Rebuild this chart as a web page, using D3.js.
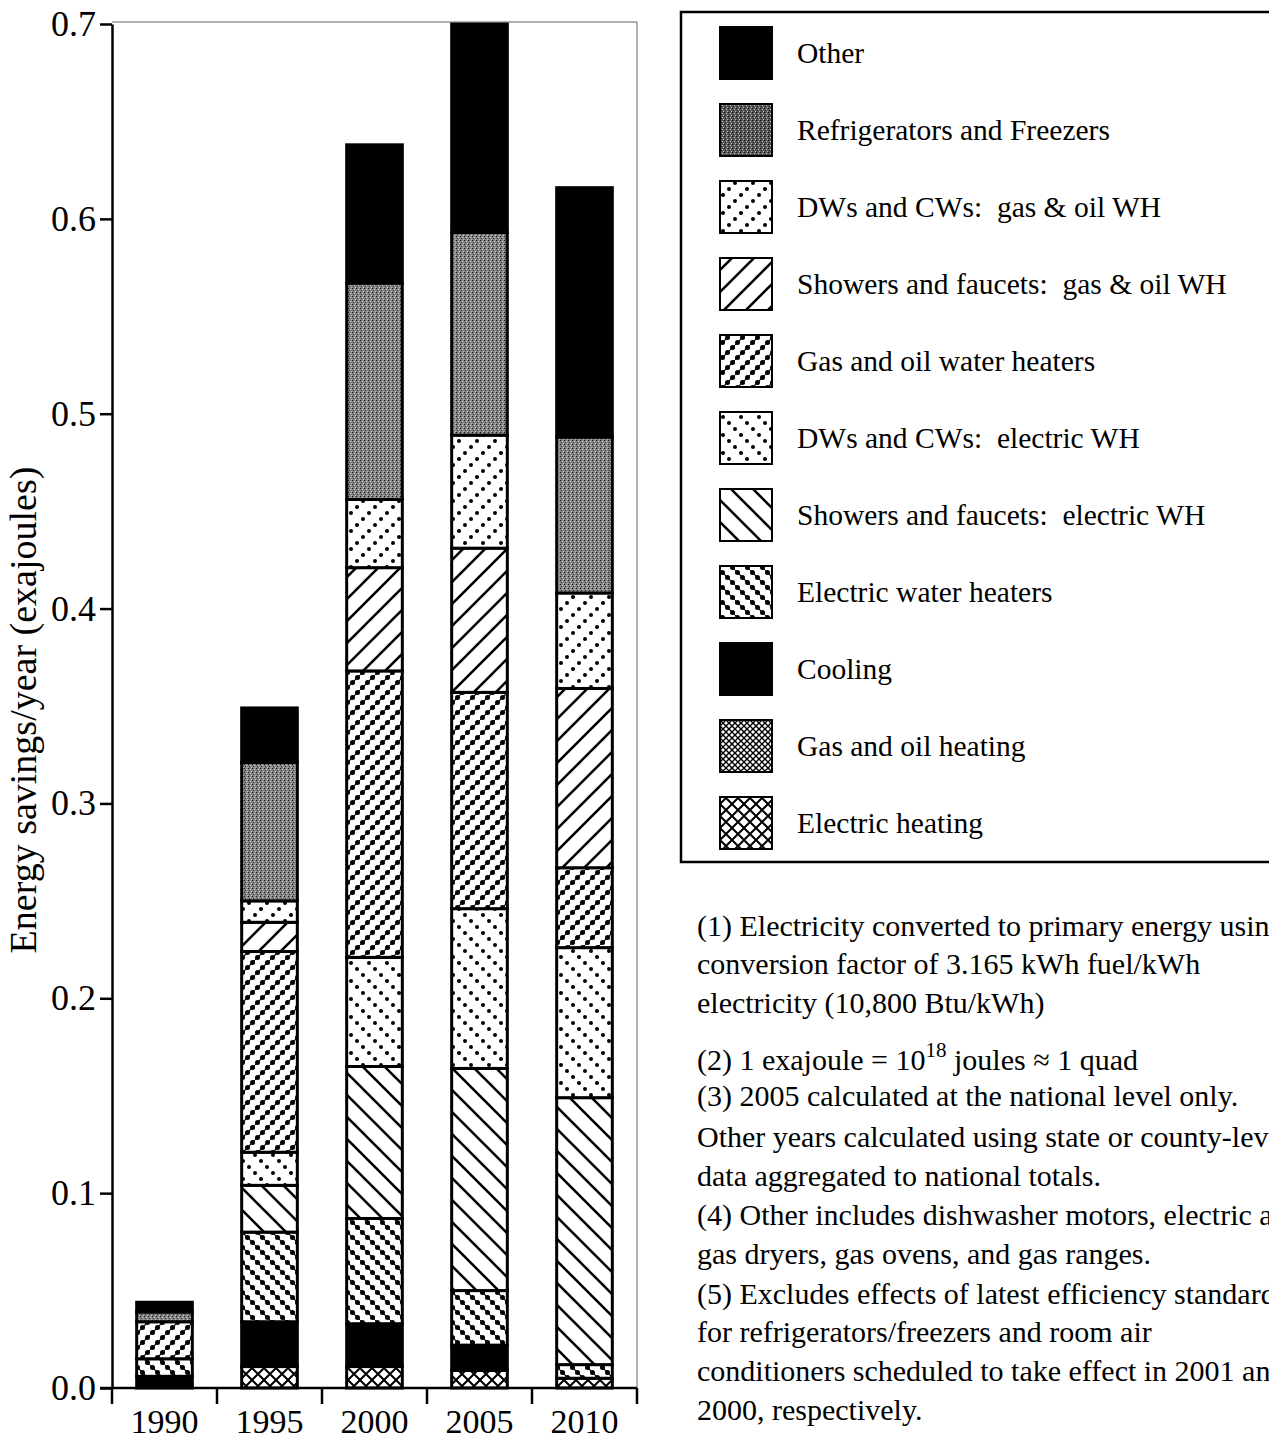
<!DOCTYPE html>
<html>
<head>
<meta charset="utf-8">
<script src="https://cdn.jsdelivr.net/npm/d3@7"></script>
<style>
  body { margin: 0; background: #fff; }
  text { font-family: "Liberation Serif", "Times New Roman", serif; fill: #000; white-space: pre; }
</style>
</head>
<body>
<div id="chart"></div>
<script>
// values (exajoules), bottom of stack first
var years = ["1990", "1995", "2000", "2005", "2010"];
var electricHeating = [0, 0.011, 0.011, 0.009, 0.005];
var gasOilHeating = [0, 0, 0, 0, 0];
var cooling = [0.006, 0.023, 0.022, 0.013, 0];
var electricWH = [0.009, 0.046, 0.054, 0.028, 0.007];
var showersElectric = [0, 0.024, 0.078, 0.114, 0.137];
var dwElectric = [0, 0.017, 0.056, 0.082, 0.077];
var gasOilWH = [0.019, 0.103, 0.147, 0.111, 0.041];
var showersGas = [0, 0.015, 0.053, 0.074, 0.092];
var dwGas = [0, 0.011, 0.035, 0.058, 0.049];
var refrigerators = [0.005, 0.071, 0.111, 0.104, 0.080];
var other = [0.005, 0.028, 0.071, 0.107, 0.128];

var yTicks = [0, 0.1, 0.2, 0.3, 0.4, 0.5, 0.6, 0.7];

var seriesNames = ["Electric heating", "Gas and oil heating", "Cooling", "Electric water heaters",
  "Showers and faucets:  electric WH", "DWs and CWs:  electric WH", "Gas and oil water heaters",
  "Showers and faucets:  gas & oil WH", "DWs and CWs:  gas & oil WH", "Refrigerators and Freezers", "Other"];
var seriesValues = [electricHeating, gasOilHeating, cooling, electricWH, showersElectric, dwElectric,
  gasOilWH, showersGas, dwGas, refrigerators, other];
var seriesFill = ["url(#p-elheat)", "url(#p-gasheat)", "#000", "url(#p-elwh)", "url(#p-showel)",
  "url(#p-dwel)", "url(#p-gaswh)", "url(#p-showgas)", "url(#p-dwgas)", "url(#p-refrig)", "#000"];

var notes = [
  {y: 936, t: "(1) Electricity converted to primary energy using"},
  {y: 974, t: "conversion factor of 3.165 kWh fuel/kWh"},
  {y: 1013, t: "electricity (10,800 Btu/kWh)"},
  {y: 1070, t: "(2) 1 exajoule = 10", sup: "18", rest: " joules \u2248 1 quad"},
  {y: 1106, t: "(3) 2005 calculated at the national level only."},
  {y: 1147, t: "Other years calculated using state or county-level"},
  {y: 1186, t: "data aggregated to national totals."},
  {y: 1225, t: "(4) Other includes dishwasher motors, electric and"},
  {y: 1264, t: "gas dryers, gas ovens, and gas ranges."},
  {y: 1304, t: "(5) Excludes effects of latest efficiency standards"},
  {y: 1342, t: "for refrigerators/freezers and room air"},
  {y: 1381, t: "conditioners scheduled to take effect in 2001 and"},
  {y: 1420, t: "2000, respectively."}
];

var table = years.map(function(yr, i) {
  var row = {year: yr};
  seriesNames.forEach(function(n, k) { row[n] = seriesValues[k][i]; });
  return row;
});

var svg = d3.select("#chart").append("svg")
  .attr("width", 1269).attr("height", 1443);

// ---- patterns
var defs = svg.append("defs");

function pat(id, w, h, bg) {
  var p = defs.append("pattern").attr("id", id)
    .attr("patternUnits", "userSpaceOnUse").attr("width", w).attr("height", h);
  p.append("rect").attr("width", w).attr("height", h).attr("fill", bg || "#fff");
  return p;
}

// forward / back hatch lines
var sg = pat("p-showgas", 22, 22);
sg.append("path").attr("d", "M-2,24 L24,-2 M-6,6 L6,-6 M16,28 L28,16").attr("stroke", "#000").attr("stroke-width", 2.6);
var se = pat("p-showel", 22, 22);
se.append("path").attr("d", "M-2,-2 L24,24 M-6,16 L6,28 M16,-6 L28,6").attr("stroke", "#000").attr("stroke-width", 2.6);

// sparse dotted diagonals
var dg = pat("p-dwgas", 18, 18);
[[3, 15], [9, 9], [15, 3]].forEach(function(c) {
  dg.append("circle").attr("cx", c[0]).attr("cy", c[1]).attr("r", 2).attr("fill", "#000");
});
var de = pat("p-dwel", 18, 18);
[[3, 3], [9, 9], [15, 15]].forEach(function(c) {
  de.append("circle").attr("cx", c[0]).attr("cy", c[1]).attr("r", 2).attr("fill", "#000");
});

// dense dotted diagonals
var gw = pat("p-gaswh", 15, 15);
gw.append("path").attr("d", "M-1,16 L16,-1").attr("stroke", "#000").attr("stroke-width", 1.2);
[[2.5, 12.5], [7.5, 7.5], [12.5, 2.5]].forEach(function(c) {
  gw.append("circle").attr("cx", c[0]).attr("cy", c[1]).attr("r", 2.5).attr("fill", "#000");
});
var ew = pat("p-elwh", 15, 15);
ew.append("path").attr("d", "M-1,-1 L16,16").attr("stroke", "#000").attr("stroke-width", 1.2);
[[2.5, 2.5], [7.5, 7.5], [12.5, 12.5]].forEach(function(c) {
  ew.append("circle").attr("cx", c[0]).attr("cy", c[1]).attr("r", 2.5).attr("fill", "#000");
});

// cross hatches
var gh = pat("p-gasheat", 6, 6);
gh.append("path").attr("d", "M0,0 L6,6 M6,0 L0,6").attr("stroke", "#000").attr("stroke-width", 1.4);
var eh = pat("p-elheat", 12, 12);
eh.append("path").attr("d", "M0,0 L12,12 M12,0 L0,12").attr("stroke", "#000").attr("stroke-width", 2);

// grey stipple (bars lighter, legend swatch darker)
function stipple(id, bg) {
  var p = pat(id, 4, 4, bg);
  p.append("rect").attr("x", 0).attr("y", 0).attr("width", 1).attr("height", 1).attr("fill", "#111");
  p.append("rect").attr("x", 2).attr("y", 1).attr("width", 1).attr("height", 1).attr("fill", "#ccc");
  p.append("rect").attr("x", 1).attr("y", 2).attr("width", 1).attr("height", 1).attr("fill", "#333");
  p.append("rect").attr("x", 3).attr("y", 3).attr("width", 1).attr("height", 1).attr("fill", "#bbb");
}
stipple("p-refrig", "#858585");
stipple("p-refrig-dark", "#555");

// ---- scales
var x = d3.scaleBand().domain(years).range([112, 637]).paddingInner(0.47).paddingOuter(0.235);
var y = d3.scaleLinear().domain([0, 0.7]).range([1388, 24]);

var stack = d3.stack().keys(seriesNames);
var layers = stack(table);

// frame
svg.append("path").attr("d", "M112,22 L637,22 L637,1388").attr("fill", "none")
  .attr("stroke", "#666").attr("stroke-width", 1);

var bars = svg.append("g").attr("id", "bars");
layers.forEach(function(layer, k) {
  bars.append("g").selectAll("rect")
    .data(layer.filter(function(d) { return d[1] - d[0] > 0; }))
    .enter().append("rect")
    .attr("x", function(d) { return x(d.data.year); })
    .attr("width", x.bandwidth())
    .attr("y", function(d) { return y(d[1]); })
    .attr("height", function(d) { return y(d[0]) - y(d[1]); })
    .attr("fill", seriesFill[k])
    .attr("stroke", "#000")
    .attr("stroke-width", 3);
});

// y axis
var yAxis = d3.axisLeft(y).tickValues(yTicks).tickFormat(d3.format(".1f")).tickSize(12).tickSizeOuter(0);
var yg = svg.append("g").attr("transform", "translate(112,0)").call(yAxis);
yg.select(".domain").attr("stroke-width", 2.5);
yg.selectAll(".tick line").attr("stroke-width", 2.5);
yg.selectAll(".tick text").attr("font-size", 36).attr("x", -16)
  .style("font-family", "Liberation Serif, serif").attr("fill", "#000");

// x axis: boundary ticks, labels centred on bars
var xg = svg.append("g");
xg.append("line").attr("x1", 100).attr("x2", 637).attr("y1", 1388).attr("y2", 1388)
  .attr("stroke", "#000").attr("stroke-width", 2.5);
d3.range(years.length + 1).forEach(function(i) {
  var px = x.range()[0] + i * x.step();
  xg.append("line").attr("x1", px).attr("x2", px).attr("y1", 1388).attr("y2", 1404)
    .attr("stroke", "#000").attr("stroke-width", 2.5);
});
xg.selectAll("text.xl").data(years).enter().append("text").attr("class", "xl")
  .attr("x", function(d) { return x(d) + x.bandwidth() / 2; })
  .attr("y", 1433).attr("text-anchor", "middle").attr("font-size", 34)
  .text(function(d) { return d; });

svg.append("text").attr("transform", "translate(36,710) rotate(-90)")
  .attr("text-anchor", "middle").attr("font-size", 38)
  .text("Energy savings/year (exajoules)");

// legend, top entry first
var legend = svg.append("g");
legend.append("rect").attr("x", 681).attr("y", 12).attr("width", 620).attr("height", 850)
  .attr("fill", "none").attr("stroke", "#000").attr("stroke-width", 2.5);
var legendOrder = seriesNames.slice().reverse();
var legendFill = seriesFill.slice().reverse().map(function(f) {
  return f === "url(#p-refrig)" ? "url(#p-refrig-dark)" : f;
});
legendOrder.forEach(function(n, i) {
  var ly = 27 + i * 77;
  legend.append("rect").attr("x", 720).attr("y", ly).attr("width", 52).attr("height", 52)
    .attr("fill", legendFill[i]).attr("stroke", "#000").attr("stroke-width", 2);
  legend.append("text").attr("x", 797).attr("y", ly + 36).attr("font-size", 29.5).text(n);
});

// notes
var ng = svg.append("g");
notes.forEach(function(n) {
  var t = ng.append("text").attr("x", 697).attr("y", n.y).attr("font-size", 30).text(n.t);
  if (n.sup) {
    t.append("tspan").attr("dy", -13).attr("font-size", 21).text(n.sup);
    t.append("tspan").attr("dy", 13).text(n.rest);
  }
});
</script>
</body>
</html>
